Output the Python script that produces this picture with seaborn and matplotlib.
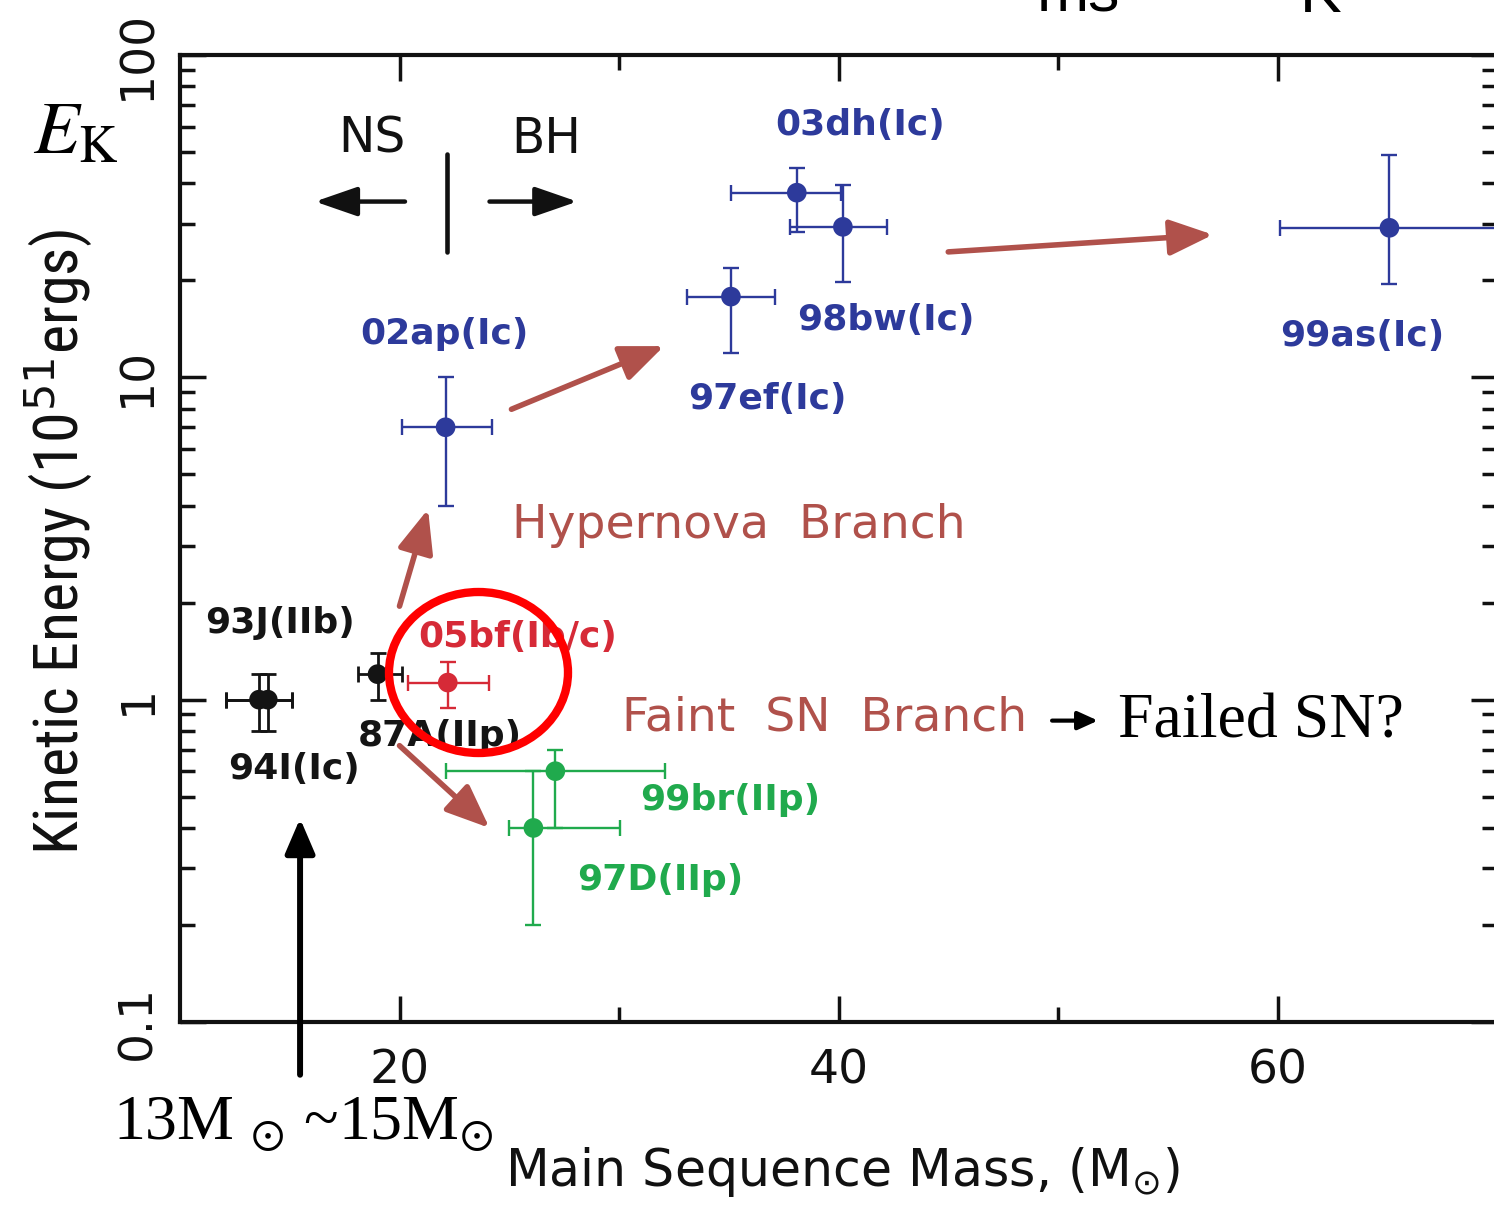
import numpy as np
import pandas as pd
import matplotlib
matplotlib.use('Agg')
import matplotlib.pyplot as plt
import seaborn as sns
from matplotlib import font_manager
from matplotlib.patches import Ellipse
from matplotlib.ticker import FixedLocator, NullFormatter, LogLocator

# ---------------- data ----------------
sn_names = ['93J(IIb)', '94I(Ic)', '87A(IIp)', '05bf(Ib/c)', '02ap(Ic)', '97ef(Ic)',
            '03dh(Ic)', '98bw(Ic)', '99as(Ic)', '99br(IIp)', '97D(IIp)']
sn_group = ['normal', 'normal', 'normal', 'sn05bf', 'hyper', 'hyper',
            'hyper', 'hyper', 'hyper', 'faint', 'faint']
mass = [13.6, 14.0, 19.0, 22.2, 22.1, 35.1, 38.1, 40.2, 65.1, 27.1, 26.1]
mass_lo = [12.1, 12.1, 18.1, 20.4, 20.1, 33.1, 35.1, 37.8, 60.1, 22.1, 25.0]
mass_hi = [15.1, 15.1, 20.1, 24.1, 24.2, 37.1, 40.1, 42.2, 70.1, 32.1, 30.05]
energy = [1.0, 1.0, 1.2, 1.13, 7.0, 17.8, 37.4, 29.3, 29.1, 0.60, 0.40]
energy_lo = [0.8, 0.8, 1.0, 0.94, 4.0, 11.9, 28.3, 19.7, 19.5, 0.40, 0.20]
energy_hi = [1.2, 1.2, 1.4, 1.31, 10.0, 21.8, 44.7, 39.6, 49.0, 0.70, 0.60]

x_ticks = [20, 40, 60]
x_tick_labels = ['20', '40', '60']
y_ticks = [0.1, 1, 10, 100]
y_tick_labels = ['0.1', '1', '10', '100']

# label anchor (left, vertical centre) for each SN name, data coords
label_x = [11.14, 12.19, 18.1, 20.84, 18.2, 33.14, 37.1, 38.1, 60.1, 30.96, 28.09]
label_y = [1.73, 0.61, 0.77, 1.57, 13.6, 8.55, 60.7, 15.1, 13.4, 0.487, 0.275]

palette = {'normal': '#141414', 'sn05bf': '#d62a37', 'hyper': '#2d3a9b', 'faint': '#20aa4d'}
BROWN = '#b0514b'

# ---------------- style ----------------
sns.set_theme(style='ticks')
plt.rcParams['font.family'] = ['DejaVu Sans']
plt.rcParams['mathtext.fontset'] = 'dejavusans'

avail = {f.name for f in font_manager.fontManager.ttflist}
narrow = None
for n in ['Liberation Sans Narrow', 'DejaVu Sans Condensed', 'Roboto Condensed']:
    if n in avail:
        narrow = n
        break

W, H = 1494, 1207
fig = plt.figure(figsize=(W / 100, H / 100), dpi=100)
fig.patch.set_facecolor('white')
ax = fig.add_axes([180 / W, 1 - 1022 / H, 1317 / W, 967 / H])
ax.set_facecolor('white')
ax.set_yscale('log')
ax.set_xlim(10, 70)
ax.set_ylim(0.1, 100)

df = pd.DataFrame(dict(name=sn_names, group=sn_group, mass=mass, energy=energy,
                       mlo=mass_lo, mhi=mass_hi, elo=energy_lo, ehi=energy_hi))

for g, col in palette.items():
    sub = df[df.group == g]
    lw = 2.0 if g == 'normal' else 1.7
    ax.errorbar(sub.mass, sub.energy,
                xerr=[sub.mass - sub.mlo, sub.mhi - sub.mass],
                yerr=[sub.energy - sub.elo, sub.ehi - sub.energy],
                fmt='none', ecolor=col, elinewidth=lw, capsize=6.1, capthick=lw,
                zorder=3)

sns.scatterplot(data=df, x='mass', y='energy', hue='group', palette=palette,
                s=200, edgecolor='none', legend=False, ax=ax, zorder=4)
ax.set_xlabel('')
ax.set_ylabel('')

# names
for nm, g, lx, ly in zip(sn_names, sn_group, label_x, label_y):
    ax.text(lx, ly, nm, color=palette[g], fontsize=26, fontweight='bold',
            ha='left', va='center', zorder=5)

# ticks & spines
ax.set_xticks(x_ticks)
ax.set_xticklabels(x_tick_labels)
ax.xaxis.set_minor_locator(FixedLocator([30, 50]))
ax.set_yticks(y_ticks)
ax.set_yticklabels(y_tick_labels)
ax.yaxis.set_minor_locator(LogLocator(base=10, subs=np.arange(2, 10)))
ax.yaxis.set_minor_formatter(NullFormatter())
ax.tick_params(which='both', direction='in', top=True, right=True, width=2.5,
               color='#111111', labelcolor='#111111')
ax.tick_params(which='major', length=19, labelsize=34)
ax.tick_params(which='minor', length=11)
ax.tick_params(axis='x', pad=19)
ax.tick_params(axis='y', pad=14, labelrotation=90)
for lab in ax.get_yticklabels():
    lab.set_va('center')
for s in ax.spines.values():
    s.set_linewidth(3)
    s.set_color('#111111')

# axis labels
if narrow:
    ylab = ax.set_ylabel('Kinetic Energy (10$^{51}$ergs)', fontsize=40, family=narrow,
                         color='#111111')
else:
    ylab = ax.set_ylabel('Kinetic Energy (10$^{51}$ergs)', fontsize=30,
                         fontstretch='condensed', color='#111111')
ylab.set_va('center')
ax.yaxis.set_label_coords((58 - 180) / 1317, (1022 - 542) / 967)
xlab = ax.set_xlabel('Main Sequence Mass, (M$_{\\odot}$)', fontsize=37, color='#111111')
xlab.set_va('center')
ax.xaxis.set_label_coords((842 - 180) / 1317, (1022 - 1172) / 967)

# NS / BH
ax.text(18.75, 55.0, 'NS', fontsize=35, ha='center', va='center', color='#111111')
ax.text(26.67, 55.0, 'BH', fontsize=35, ha='center', va='center', color='#111111')
ax.plot([22.16, 22.16], [24.5, 49.4], color='#111111', lw=3.3, solid_capstyle='round')
bk = dict(arrowstyle='-|>,head_length=1.3,head_width=0.45', lw=3.2, color='#111111',
          shrinkA=0, shrinkB=0, mutation_scale=20)
ax.annotate('', xy=(16.15, 35.1), xytext=(20.25, 35.1), arrowprops=bk)
ax.annotate('', xy=(28.1, 35.1), xytext=(24.1, 35.1), arrowprops=bk)

# branch arrows
br = dict(arrowstyle='-|>,head_length=1.33,head_width=0.55', lw=4.0, color=BROWN,
          shrinkA=0, shrinkB=0, mutation_scale=20)
ax.annotate('', xy=(21.3, 3.9), xytext=(20.0, 1.95), arrowprops=br)
ax.annotate('', xy=(32.05, 12.5), xytext=(25.1, 7.96), arrowprops=br)
ax.annotate('', xy=(57.06, 27.7), xytext=(45.0, 24.5), arrowprops=br)
ax.annotate('', xy=(24.1, 0.40), xytext=(20.0, 0.72), arrowprops=br)

ax.text(25.13, 3.46, 'Hypernova  Branch', fontsize=34, color=BROWN, ha='left', va='center')
ax.text(30.14, 0.88, 'Faint  SN  Branch', fontsize=34, color=BROWN, ha='left', va='center')

# Failed SN?
ax.annotate('', xy=(51.82, 0.861), xytext=(49.73, 0.861),
            arrowprops=dict(arrowstyle='-|>,head_length=1.1,head_width=0.5', lw=3,
                            color='black', shrinkA=0, shrinkB=0, mutation_scale=11))
ax.text(52.73, 0.763, 'Failed SN?', fontsize=46, family='Liberation Serif',
        ha='left', va='baseline', color='black')

# big vertical arrow
ax.annotate('', xy=(15.47, 0.428), xytext=(15.47, 0.0686), annotation_clip=False,
            arrowprops=dict(arrowstyle='-|>,head_length=1.05,head_width=0.45', lw=4.3,
                            color='black', shrinkA=0, shrinkB=0, mutation_scale=20))

# red circle
circ = Ellipse((478.5 / W, 1 - 672.5 / H), 179 / W, 161 / H, transform=fig.transFigure,
               fill=False, edgecolor='#ff0000', lw=6, zorder=10)
fig.add_artist(circ)

# figure texts
fig.text(33 / W, 1 - 153 / H, r'$E_{\mathrm{K}}$', fontsize=54, math_fontfamily='stix',
         va='baseline', ha='left', color='black')
fig.text(113 / W, 1 - 1140 / H, r'13M $_{\odot}$ ~15M$_{\odot}$', fontsize=46,
         family='Liberation Serif', math_fontfamily='stix', va='baseline', ha='left',
         color='black')
fig.text(1037 / W, 1 - 12 / H, 'ms', fontsize=45, family='Liberation Sans',
         va='baseline', ha='left', color='black')
fig.text(1300 / W, 1 - 12 / H, 'K', fontsize=45, family='Liberation Sans',
         va='baseline', ha='left', color='black')

# fit axis label lengths
fig.canvas.draw()
r = fig.canvas.get_renderer()
bb = ylab.get_window_extent(r)
ylab.set_fontsize(ylab.get_fontsize() * 625 / bb.height)
bb = xlab.get_window_extent(r)
xlab.set_fontsize(xlab.get_fontsize() * 675 / bb.width)

fig.savefig('out.png', dpi=100, facecolor='white')
